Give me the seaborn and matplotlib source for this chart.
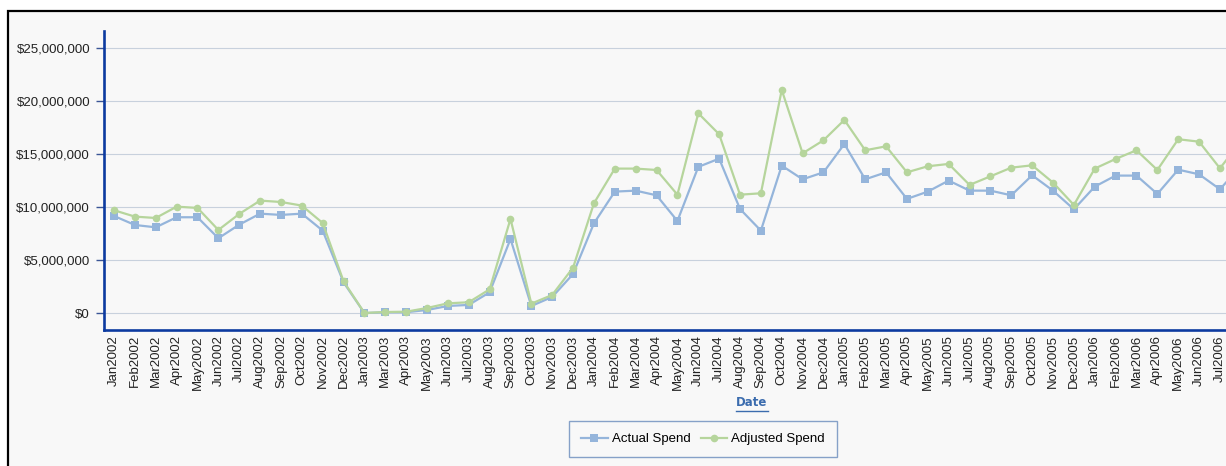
import pandas as pd
import seaborn as sns
import matplotlib.pyplot as plt
from matplotlib.patches import Rectangle
from matplotlib.lines import Line2D
from matplotlib.ticker import FuncFormatter

# months as shown on the axis (Feb2003 is missing in the source)
months = ['Jan2002', 'Feb2002', 'Mar2002', 'Apr2002', 'May2002', 'Jun2002',
          'Jul2002', 'Aug2002', 'Sep2002', 'Oct2002', 'Nov2002', 'Dec2002',
          'Jan2003', 'Mar2003', 'Apr2003', 'May2003', 'Jun2003', 'Jul2003',
          'Aug2003', 'Sep2003', 'Oct2003', 'Nov2003', 'Dec2003',
          'Jan2004', 'Feb2004', 'Mar2004', 'Apr2004', 'May2004', 'Jun2004',
          'Jul2004', 'Aug2004', 'Sep2004', 'Oct2004', 'Nov2004', 'Dec2004',
          'Jan2005', 'Feb2005', 'Mar2005', 'Apr2005', 'May2005', 'Jun2005',
          'Jul2005', 'Aug2005', 'Sep2005', 'Oct2005', 'Nov2005', 'Dec2005',
          'Jan2006', 'Feb2006', 'Mar2006', 'Apr2006', 'May2006', 'Jun2006',
          'Jul2006', 'Aug2006']

# values in millions of dollars
actual_spend = [9.18, 8.33, 8.11, 9.06, 9.06, 7.08, 8.36, 9.40, 9.28, 9.40, 7.80, 2.92,
                0.02, 0.10, 0.10, 0.31, 0.69, 0.79, 1.98, 7.01, 0.69, 1.54, 3.71,
                8.49, 11.48, 11.57, 11.13, 8.71, 13.81, 14.59, 9.84, 7.80, 13.93, 12.64, 13.30,
                15.97, 12.64, 13.30, 10.79, 11.48, 12.52, 11.57, 11.57, 11.13, 13.02, 11.57, 9.81,
                11.95, 12.99, 12.99, 11.26, 13.55, 13.11, 11.70, 13.90]
adjusted_spend = [9.72, 9.12, 8.99, 10.06, 9.94, 7.86, 9.37, 10.63, 10.50, 10.16, 8.52, 3.02,
                  0.03, 0.12, 0.15, 0.50, 0.94, 1.04, 2.26, 8.90, 0.91, 1.73, 4.31,
                  10.38, 13.65, 13.65, 13.52, 11.19, 18.87, 16.89, 11.19, 11.32, 21.07, 15.09, 16.32,
                  18.24, 15.38, 15.75, 13.30, 13.87, 14.09, 12.11, 12.92, 13.74, 13.96, 12.33, 10.22,
                  13.65, 14.56, 15.38, 13.52, 16.42, 16.19, 13.68, 16.20]
series_names = ['Actual Spend', 'Adjusted Spend']
colors = ['#95b5db', '#b6d59c']

df = pd.concat([
    pd.DataFrame({'Date': months, 'Spend': [v * 1e6 for v in actual_spend], 'Series': series_names[0]}),
    pd.DataFrame({'Date': months, 'Spend': [v * 1e6 for v in adjusted_spend], 'Series': series_names[1]}),
])

plt.rcParams['font.family'] = ['Liberation Sans', 'DejaVu Sans']

W, H = 1226, 466
fig = plt.figure(figsize=(W / 100, H / 100), dpi=100, facecolor='white')
# outer panel with black border (only top / left edges visible)
fig.patches.append(Rectangle((8 / W, -0.2), 1.2, (H - 11) / H + 0.2, transform=fig.transFigure,
                             facecolor='#f8f8f8', edgecolor='black', linewidth=1.6, zorder=-5))

ax = fig.add_axes([104 / W, (H - 329.5) / H, (W - 104) / W, (329.5 - 30.7) / H])
ax.set_facecolor('#f8f8f8')

sns.lineplot(data=df, x='Date', y='Spend', hue='Series', style='Series',
             palette=colors, markers=['s', 'o'], dashes=False, sort=False,
             linewidth=1.6, markersize=5.5, markeredgewidth=0, ax=ax)

ax.set_ylim(-1.53e6, 26.66e6)
ax.set_xlim(-0.48, 53.29)
ax.set_yticks([0, 5e6, 10e6, 15e6, 20e6, 25e6])
ax.yaxis.set_major_formatter(FuncFormatter(lambda v, p: '${:,.0f}'.format(v)))
ax.grid(axis='y', color='#c8d1dd', linewidth=0.8)
ax.set_axisbelow(True)

for s in ['top', 'right']:
    ax.spines[s].set_visible(False)
for s in ['left', 'bottom']:
    ax.spines[s].set_color('#0c3aa0')
    ax.spines[s].set_linewidth(1.9)

ax.tick_params(axis='y', length=6, width=1, color='#3a5596', pad=4, labelsize=9.5, labelcolor='#222222')
ax.tick_params(axis='x', length=0, pad=4, labelsize=9.5, labelcolor='#222222', rotation=90)
ax.set_xlabel('')
ax.set_ylabel('')

# axis title, bold and underlined
t = fig.text(752 / W, 1 - 403 / H, 'Date', ha='center', va='center', fontsize=8.5,
             fontweight='bold', color='#3b6cae', family='DejaVu Sans')
fig.canvas.draw()
bb = t.get_window_extent()
fig.lines.append(Line2D([bb.x0 / W, bb.x1 / W], [(bb.y0 - 1) / H, (bb.y0 - 1) / H],
                        transform=fig.transFigure, color='#3b6cae', linewidth=1))

sns.move_legend(ax, 'center', bbox_to_anchor=(703 / W, 1 - 439 / H), bbox_transform=fig.transFigure,
                ncol=2, title=None, frameon=True, fancybox=False, fontsize=9.5,
                handlelength=2.0, handletextpad=0.3, columnspacing=0.8, borderpad=0.9)
leg = ax.get_legend()
leg.get_frame().set_edgecolor('#6a8cbc')
leg.get_frame().set_facecolor('#f8f8f8')
leg.get_frame().set_linewidth(1)

fig.savefig('out.png', dpi=100)
